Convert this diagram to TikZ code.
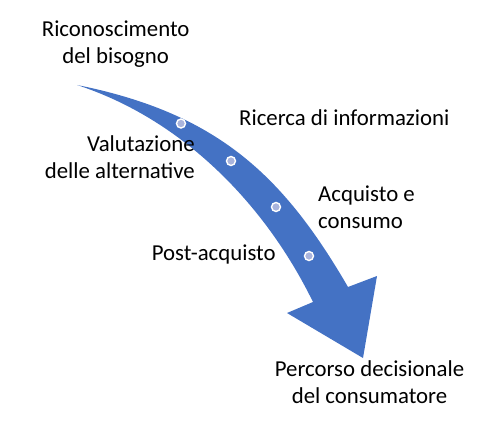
\documentclass[tikz,border=0pt]{standalone}
\usepackage{fontspec}
\setmainfont{Carlito}
\usepackage{tikz}
\definecolor{arrowblue}{HTML}{4472C4}
\definecolor{dotfill}{HTML}{A9B4DD}

\begin{document}
\begin{tikzpicture}[x=1pt,y=-1pt,
    label/.style={font=\fontsize{22.8}{26.7}\selectfont, inner sep=0pt},
    dot/.style={circle, fill=dotfill, draw=white, line width=1.4pt, minimum size=9pt, inner sep=0pt}]
            \useasboundingbox (0,0) rectangle (500,438);
            % curved arrow
            \fill[arrowblue] (77,85) .. controls (217,113) and (283,175) .. (348,287)
                -- (377,276) -- (363,358) -- (287,313) -- (313,302)
                .. controls (264.6,203) and (181.5,119) .. (77,85) -- cycle;
            \node[dot] (d1) at (181,123.5) {};
            \node[dot] (d2) at (231,161) {};
            \node[dot] (d3) at (276,207) {};
            \node[dot] (d4) at (309,256) {};
            % steps
            \node[label, align=center, anchor=base] (need) at (115.7,63.3) {Riconoscimento\\del bisogno};
            \node[label, anchor=base west] (search) at (239,126) {Ricerca di informazioni};
            \node[label, align=right, anchor=base east] (eval) at (195,178.3) {Valutazione\\delle alternative};
            \node[label, align=left, anchor=base west] (buy) at (318,228.3) {Acquisto e\\consumo};
            \node[label, anchor=base west] (post) at (151.7,260) {Post-acquisto};
            \node[label, align=center, anchor=base] (path) at (369.5,403.3) {Percorso decisionale\\del consumatore};
        \end{tikzpicture}
\end{document}
